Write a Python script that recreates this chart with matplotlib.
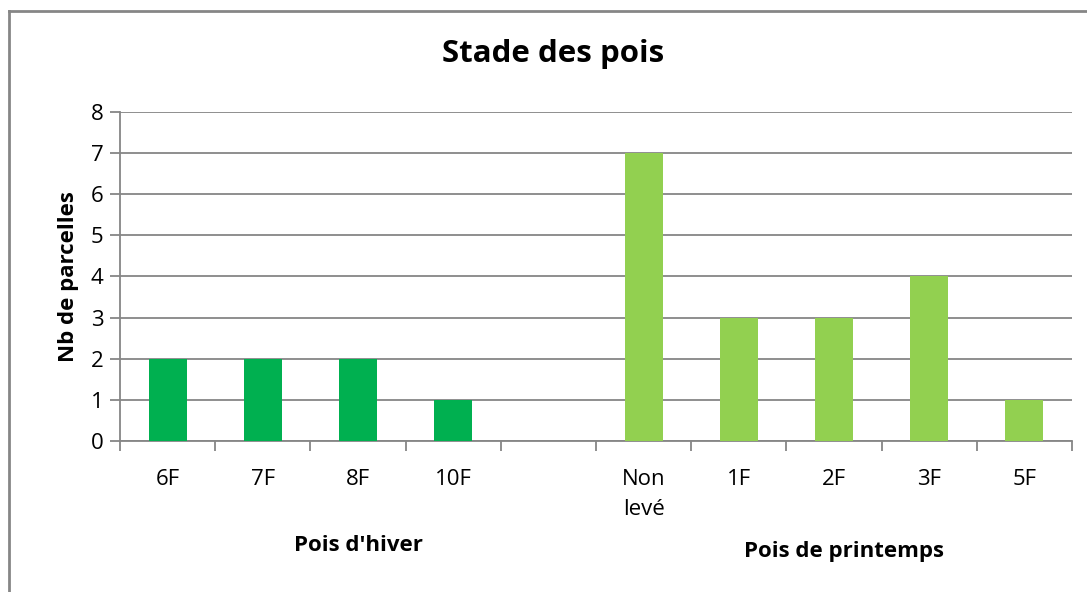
import matplotlib.pyplot as plt
from matplotlib.lines import Line2D

plt.rcParams['font.family'] = ['Open Sans', 'DejaVu Sans']

hiver_labels = ["6F", "7F", "8F", "10F"]
hiver_values = [2, 2, 2, 1]
printemps_labels = ["Non\nlevé", "1F", "2F", "3F", "5F"]
printemps_values = [7, 3, 3, 4, 1]

dark_green = "#00B050"
light_green = "#92D050"
grid_gray = "#868686"

fig = plt.figure(figsize=(10.87, 5.92), dpi=100)
ax = fig.add_axes([0.1104, 0.2551, 0.8758, 0.5557])

# empty slot between the two groups
x_hiver = list(range(len(hiver_labels)))
x_print = [len(hiver_labels) + 1 + i for i in range(len(printemps_labels))]
n_slots = len(hiver_labels) + 1 + len(printemps_labels)

ax.bar(x_hiver, hiver_values, width=0.4, color=dark_green, zorder=3)
ax.bar(x_print, printemps_values, width=0.4, color=light_green, zorder=3)

ax.set_xlim(-0.5, n_slots - 0.5)
ax.set_ylim(0, 8)
ax.set_yticks(range(0, 9))
ax.yaxis.grid(True, color=grid_gray, linewidth=1.3, zorder=0)

# category labels at slot centers, tick marks at slot boundaries
ax.set_xticks(x_hiver + x_print)
ax.set_xticklabels(hiver_labels + printemps_labels, fontsize=16, linespacing=1.6, va="top")
ax.tick_params(axis="x", length=0, pad=20)
ax.set_xticks([i - 0.5 for i in range(n_slots + 1)], minor=True)
ax.tick_params(axis="x", which="minor", length=7, width=1.3, color=grid_gray)
ax.tick_params(axis="y", length=7, width=1.3, color=grid_gray, labelsize=16, pad=5)

for s in ["top", "right"]:
    ax.spines[s].set_visible(False)
for s in ["left", "bottom"]:
    ax.spines[s].set_color(grid_gray)
    ax.spines[s].set_linewidth(1.3)

ax.set_ylabel("Nb de parcelles", fontsize=16, fontweight="bold", labelpad=8)
fig.text(0.5085, 0.908, "Stade des pois", ha="center", va="center", fontsize=22.5, fontweight="bold")

# group labels
ax.text((x_hiver[0] + x_hiver[-1] + 1) / 2, -2.55, "Pois d'hiver", ha="center", va="center",
        fontsize=16, fontweight="bold")
ax.text((x_print[0] + x_print[-1]) / 2 + 0.1, -2.68, "Pois de printemps", ha="center", va="center",
        fontsize=16, fontweight="bold")

# chart border (cropped on right and bottom)
fig.add_artist(Line2D([0.0083, 0.0083], [0.0, 0.981], color=grid_gray, linewidth=2))
fig.add_artist(Line2D([0.0083, 1.0], [0.981, 0.981], color=grid_gray, linewidth=2))

fig.savefig("out.png", dpi=100)
